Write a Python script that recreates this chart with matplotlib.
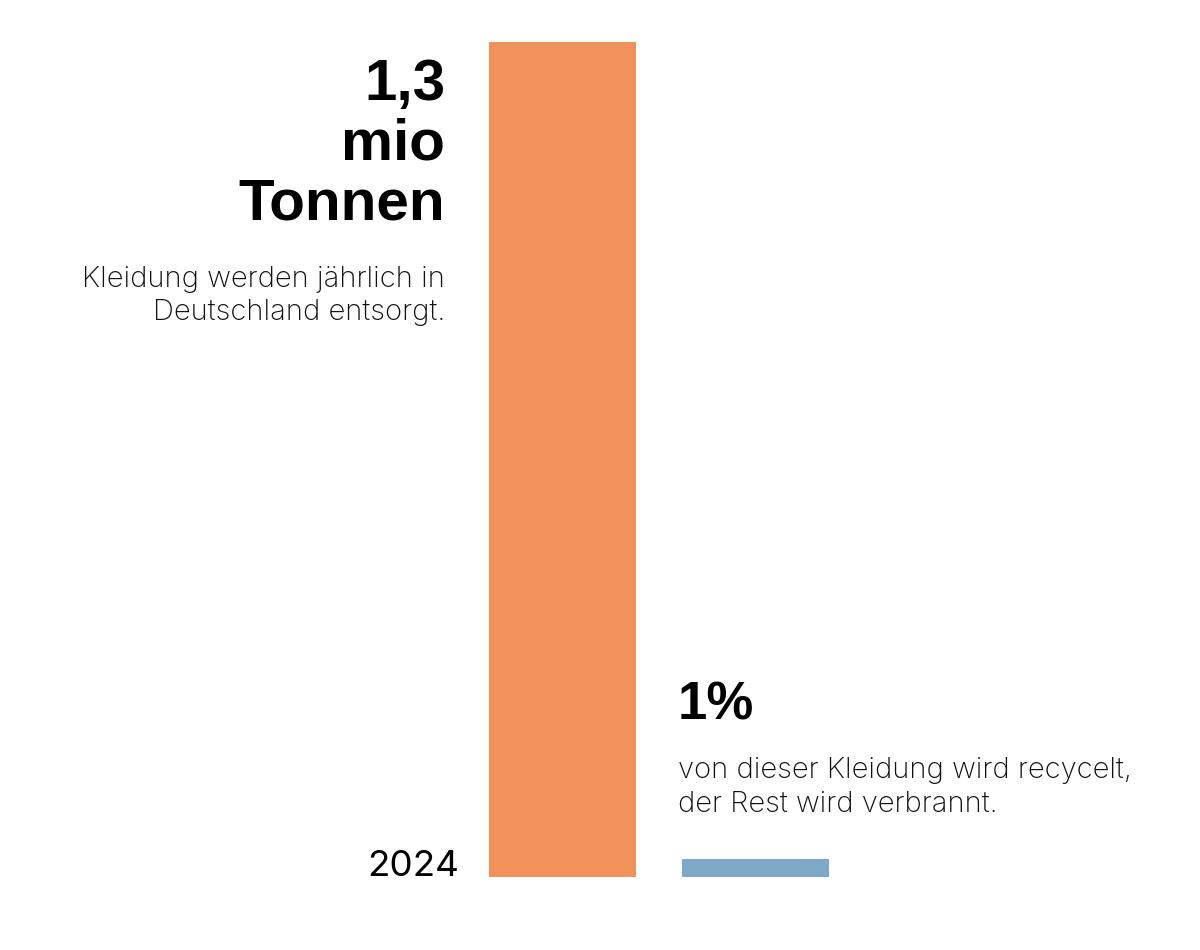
import matplotlib
matplotlib.use("Agg")
import matplotlib.pyplot as plt

# Daten
categories = ["entsorgt", "recycelt"]
values_mio_t = [1.3, 0.028]          # mio Tonnen
bar_colors = ["#F0925A", "#7FA8C6"]
year_label = "2024"
headline = ["1,3", "mio", "Tonnen"]
sub_left = ["Kleidung werden jährlich in", "Deutschland entsorgt."]
share_label = "1%"
sub_right = ["von dieser Kleidung wird recycelt,", "der Rest wird verbrannt."]

W, H = 1200, 950
fig = plt.figure(figsize=(W / 100, H / 100), dpi=100)
fig.patch.set_facecolor("white")

# Achse so legen, dass die Balken an der richtigen Stelle landen
ax = fig.add_axes([0, 73 / H, 1, 835 / H])
ax.bar(range(len(categories)), values_mio_t, width=147 / 193, color=bar_colors)
ax.set_xlim(-562.5 / 193, (W - 562.5) / 193)
ax.set_ylim(0, values_mio_t[0])
ax.axis("off")


def px(x, y):
    return x / W, 1 - y / H


bold = dict(family=["Liberation Sans", "DejaVu Sans"], weight="bold", color="black")
light = dict(family=["Inter", "Liberation Sans"], weight="light", color="#111111")

for line, base in zip(headline, [100, 160, 220]):
    fig.text(*px(445, base), line, ha="right", va="baseline", fontsize=42, **bold)

for line, base in zip(sub_left, [287, 320]):
    fig.text(*px(445, base), line, ha="right", va="baseline", fontsize=21, **light)

fig.text(*px(678, 720), share_label, ha="left", va="baseline", fontsize=38, **bold)

for line, base in zip(sub_right, [778, 812]):
    fig.text(*px(678, base), line, ha="left", va="baseline", fontsize=21, **light)

fig.text(*px(459, 876), year_label, ha="right", va="baseline", fontsize=26.5,
         family=["Inter", "Liberation Sans"], color="black")

fig.savefig("out.png", dpi=100, facecolor="white")
